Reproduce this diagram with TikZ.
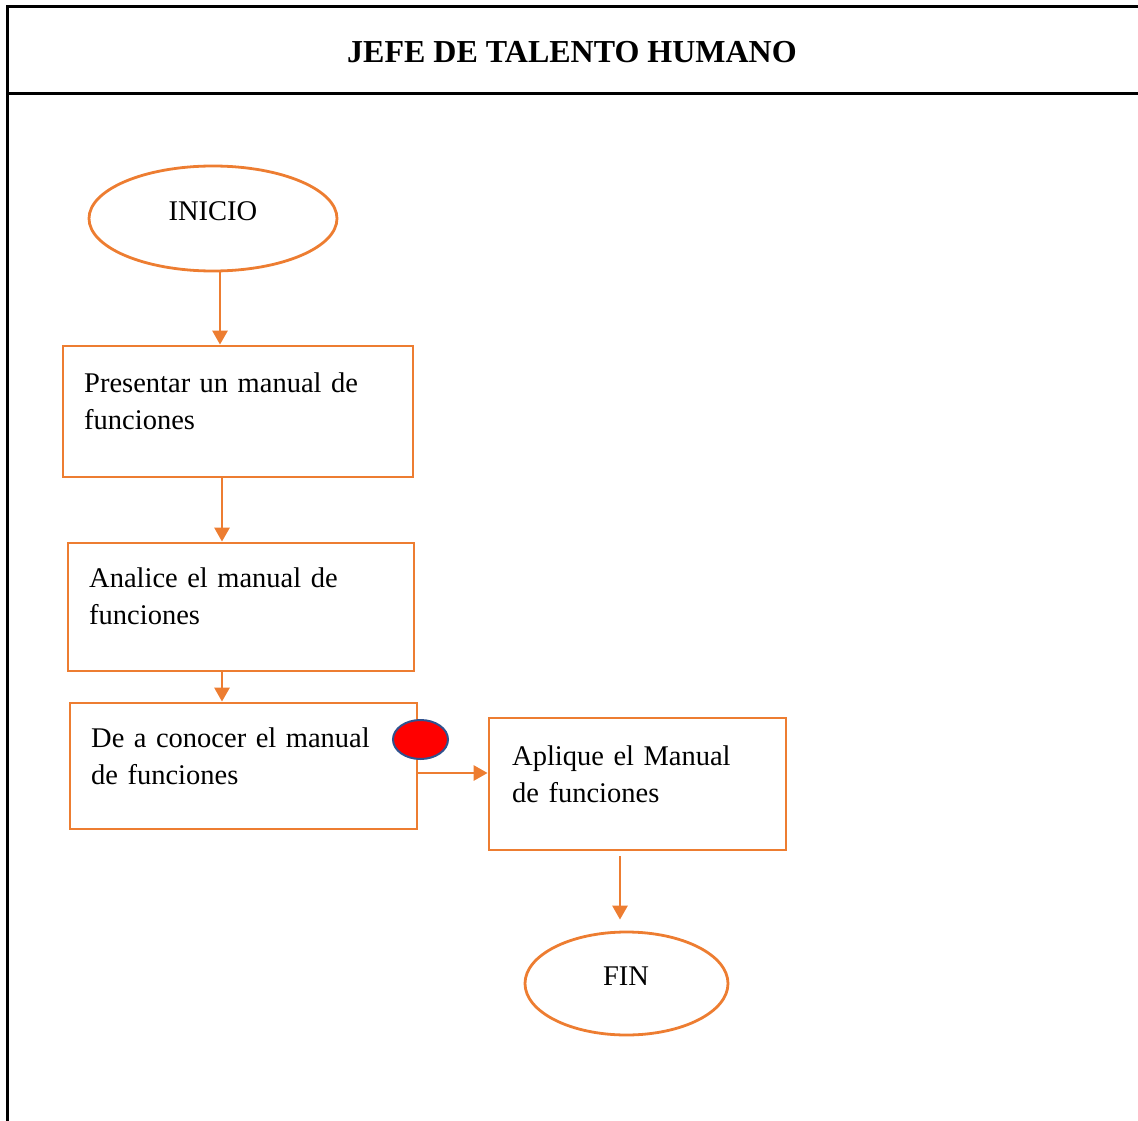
\documentclass[tikz,border=0pt]{standalone}
\usepackage{fontspec}
\setmainfont{Liberation Serif}
\usetikzlibrary{arrows.meta,shapes.geometric}
\definecolor{orng}{HTML}{ED7D31}
\definecolor{edgeblue}{HTML}{2F528F}
\begin{document}
\begin{tikzpicture}[x=1pt,y=-1pt,
  frame/.style={line width=3pt,black},
  box/.style={draw=orng,line width=2.8pt,rectangle,inner sep=0pt},
  oval/.style={draw=orng,line width=2.8pt,ellipse,inner sep=0pt},
  txt/.style={inner sep=0pt,font=\fontsize{28.5}{37}\selectfont,text width=330pt,align=left,anchor=base west},
  lbl/.style={inner sep=0pt,font=\fontsize{28.5}{37}\selectfont,anchor=base},
  arr/.style={draw=orng,line width=2.8pt,-{Triangle[length=14pt,width=15pt]}}]
\useasboundingbox (0,0) rectangle (1138,1121);
% frame
\coordinate (tl) at (7,7);
\coordinate (tr) at (1138,7);
\coordinate (bl) at (7,1121);
\coordinate (hl) at (7,94);
\coordinate (hr) at (1138,94);
\draw[frame] (tr) -- (tl) -- (bl);
\draw[frame] (hl) -- (hr);
\node[inner sep=0pt,font=\fontsize{32}{38}\selectfont\bfseries,anchor=base] (title) at (572,63) {JEFE DE TALENTO HUMANO};
% shapes
\node[oval,minimum width=248pt,minimum height=105pt] (inicio) at (213,218.5) {};
\node[lbl] (inicioT) at (213,220) {INICIO};
\node[box,minimum width=350pt,minimum height=131pt] (b1) at (238,411.5) {};
\node[txt] (t1) at (84,392) {Presentar un manual de\\funciones};
\node[box,minimum width=346pt,minimum height=128pt] (b2) at (241,607) {};
\node[txt] (t2) at (89,587) {Analice el manual de\\funciones};
\node[box,minimum width=347pt,minimum height=126pt] (b3) at (243.5,766) {};
\node[txt] (t3) at (91,747) {De a conocer el manual\\de funciones};
\node[box,minimum width=297pt,minimum height=132pt] (b4) at (637.5,784) {};
\node[txt] (t4) at (512,765) {Aplique el Manual\\de funciones};
\node[oval,minimum width=203pt,minimum height=103pt] (fin) at (626.5,983.5) {};
\node[lbl] (finT) at (626,985) {FIN};
\node[ellipse,draw=edgeblue,fill=red,line width=2pt,inner sep=0pt,minimum width=55pt,minimum height=39pt] (dot) at (420.5,739.5) {};
% connectors
\coordinate (x1) at (220,0);
\coordinate (x2) at (222,0);
\coordinate (y3) at (0,773);
\coordinate (x5) at (620,0);
\draw[arr] (inicio.south -| x1) -- (b1.north -| x1);
\draw[arr] (b1.south -| x2) -- (b2.north -| x2);
\draw[arr] (b2.south -| x2) -- (b3.north -| x2);
\draw[arr] (b3.east |- y3) -- (b4.west |- y3);
\draw[arr,shorten <=5pt,shorten >=11pt] (b4.south -| x5) -- (fin.north -| x5);
\end{tikzpicture}
\end{document}
